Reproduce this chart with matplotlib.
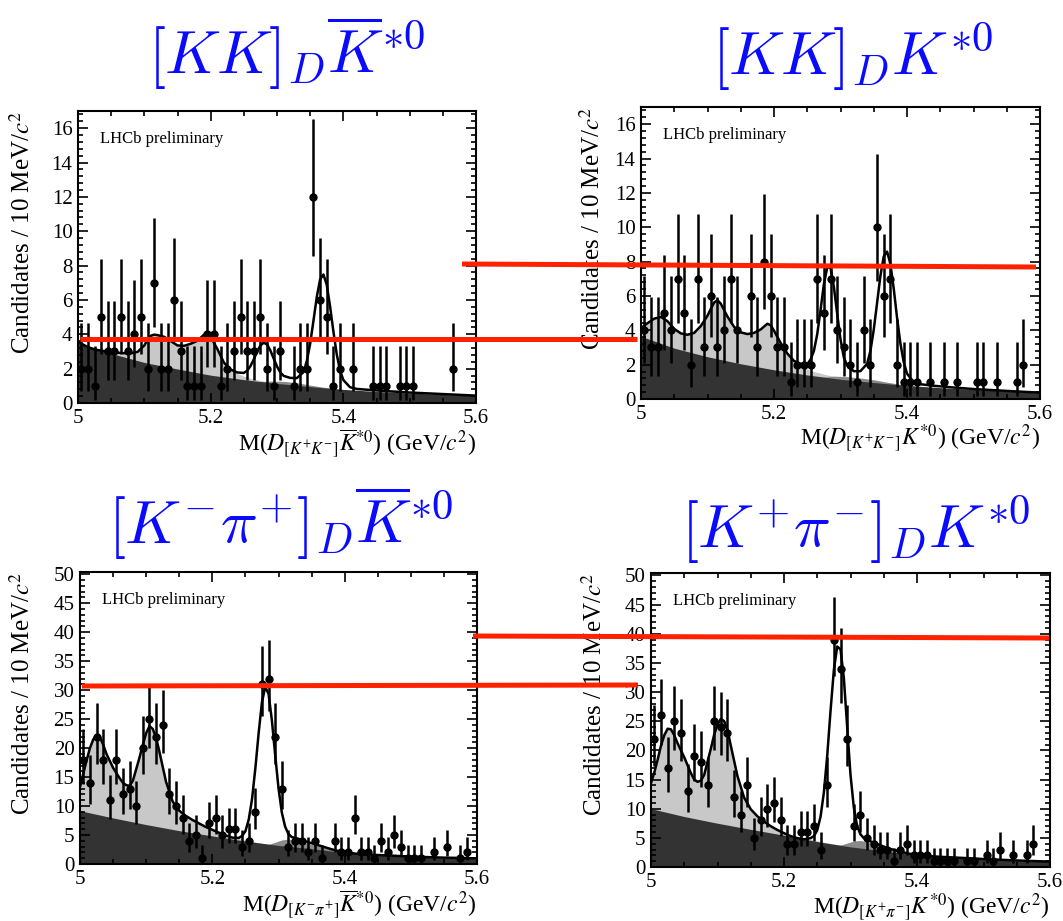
import math
import numpy as np
import matplotlib
matplotlib.use('Agg')
import matplotlib.pyplot as plt
from matplotlib.lines import Line2D
from matplotlib.ticker import MultipleLocator, StrMethodFormatter

plt.rcParams['font.family'] = 'serif'
plt.rcParams['font.serif'] = ['Liberation Serif']
plt.rcParams['mathtext.fontset'] = 'stix'

# 10 MeV bins from 5.0 to 5.6 GeV
bin_lo, bin_width, n_bins = 5.0, 0.01, 60

# candidates per bin
kk_bar_counts = [2, 2, 1, 5, 3, 3, 5, 3, 4, 5, 2, 7, 2, 2, 6, 3, 1, 1, 1, 4,
                 4, 1, 2, 3, 5, 3, 3, 5, 2, 1, 3, 0, 1, 2, 2, 12, 6, 5, 1, 2,
                 0, 2, 0, 0, 1, 1, 1, 0, 1, 1, 1, 0, 0, 0, 0, 0, 2, 0, 0, 0]
kk_counts = [4, 3, 3, 5, 4, 7, 5, 2, 7, 3, 6, 3, 4, 7, 4, 0, 6, 3, 8, 6,
             3, 3, 1, 2, 2, 2, 7, 5, 7, 4, 3, 2, 1, 4, 2, 10, 6, 7, 2, 1,
             1, 1, 0, 1, 0, 1, 0, 1, 0, 0, 1, 1, 0, 1, 0, 0, 1, 2, 0, 0]
kpi_bar_counts = [18, 14, 22, 18, 11, 18, 12, 13, 10, 20, 25, 22, 24, 12, 10, 8, 4, 5, 1, 7,
                  8, 5, 6, 6, 3, 4, 9, 31, 32, 22, 13, 3, 4, 4, 2, 4, 1, 0, 4, 2,
                  2, 8, 2, 2, 1, 4, 2, 5, 3, 1, 1, 1, 0, 2, 0, 3, 0, 1, 2, 0]
kpi_counts = [22, 26, 17, 25, 23, 13, 19, 18, 14, 25, 24, 23, 12, 9, 14, 5, 8, 10, 11, 8,
              4, 4, 6, 6, 7, 3, 14, 39, 34, 22, 7, 9, 5, 4, 3, 3, 1, 3, 4, 2,
              2, 2, 1, 1, 1, 1, 0, 1, 1, 0, 2, 1, 3, 0, 2, 0, 2, 4, 0, 0]

# total fit curves
top_x = [5.000, 5.010, 5.020, 5.030, 5.040, 5.050, 5.060, 5.070, 5.080, 5.090,
         5.100, 5.105, 5.110, 5.115, 5.120, 5.130, 5.140, 5.150, 5.160, 5.170,
         5.180, 5.190, 5.195, 5.200, 5.210, 5.220, 5.230, 5.240, 5.250, 5.255,
         5.260, 5.265, 5.270, 5.275, 5.280, 5.285, 5.290, 5.295, 5.300, 5.305,
         5.310, 5.320, 5.330, 5.340, 5.345, 5.350, 5.355, 5.360, 5.365, 5.370,
         5.375, 5.380, 5.385, 5.390, 5.395, 5.400, 5.410, 5.420, 5.440, 5.470,
         5.500, 5.550, 5.600]
kk_bar_total = [3.58, 3.35, 3.18, 3.08, 3.02, 2.98, 2.93, 2.90, 2.90, 2.98,
                3.35, 3.70, 3.92, 3.98, 3.95, 3.85, 3.60, 3.35, 3.33, 3.45,
                3.62, 3.98, 4.03, 3.85, 3.15, 2.35, 1.95, 1.78, 1.75, 1.88,
                2.15, 2.54, 2.99, 3.35, 3.51, 3.41, 3.06, 2.59, 2.13, 1.78,
                1.58, 1.46, 1.45, 1.80, 2.45, 3.45, 4.80, 6.18, 7.20, 7.48,
                6.88, 5.63, 4.17, 2.85, 1.90, 1.34, 0.92, 0.82, 0.76, 0.68,
                0.61, 0.52, 0.43]
kk_total = [4.13, 4.42, 4.68, 4.78, 4.52, 4.08, 3.82, 3.74, 3.85, 4.25,
            4.85, 5.25, 5.62, 5.75, 5.55, 4.80, 4.20, 3.88, 3.78, 3.85,
            4.05, 4.38, 4.30, 3.98, 3.26, 2.65, 2.22, 2.05, 2.02, 2.30,
            2.80, 3.77, 5.18, 6.68, 7.66, 7.64, 6.55, 4.96, 3.47, 2.42,
            1.95, 1.62, 1.62, 2.05, 2.80, 4.03, 5.59, 7.17, 8.30, 8.58,
            7.87, 6.44, 4.75, 3.25, 2.16, 1.48, 0.98, 0.86, 0.77, 0.67,
            0.58, 0.47, 0.37]

bottom_x = [5.000, 5.005, 5.010, 5.015, 5.020, 5.025, 5.030, 5.035, 5.040, 5.050,
            5.060, 5.065, 5.070, 5.075, 5.080, 5.090, 5.095, 5.100, 5.105, 5.110,
            5.115, 5.120, 5.130, 5.140, 5.150, 5.160, 5.170, 5.180, 5.190, 5.200,
            5.210, 5.220, 5.230, 5.240, 5.245, 5.250, 5.255, 5.260, 5.265, 5.270,
            5.275, 5.280, 5.285, 5.290, 5.295, 5.300, 5.305, 5.310, 5.315, 5.320,
            5.330, 5.340, 5.350, 5.360, 5.370, 5.380, 5.390, 5.400, 5.420, 5.440,
            5.470, 5.500, 5.550, 5.600]
kpi_bar_total = [13.3, 15.6, 17.9, 20.0, 21.5, 22.2, 21.9, 20.6, 19.0, 16.6,
                 14.8, 14.0, 13.6, 13.5, 14.4, 18.4, 20.6, 22.6, 23.8, 23.3,
                 21.8, 19.4, 14.2, 10.8, 9.2, 8.3, 7.6, 7.0, 6.4, 5.9,
                 5.4, 4.95, 4.55, 4.50, 4.85, 5.67, 7.66, 11.2, 16.5, 22.6,
                 27.96, 30.57, 29.35, 24.8, 18.8, 13.1, 8.9, 6.45, 5.2, 4.65,
                 4.35, 3.95, 3.6, 3.25, 2.9, 2.55, 2.25, 2.0, 1.75, 1.6,
                 1.45, 1.28, 1.1, 0.98]
kpi_total = [14.4, 16.2, 18.4, 20.8, 22.6, 23.7, 23.6, 22.6, 21.2, 18.8,
             16.1, 15.0, 14.6, 14.8, 15.8, 20.3, 22.7, 24.4, 25.4, 25.0,
             23.5, 20.8, 15.6, 11.9, 9.9, 8.7, 7.8, 7.0, 6.35, 5.8,
             5.3, 4.95, 4.75, 4.95, 5.3, 6.3, 8.65, 12.8, 19.1, 26.8,
             33.8, 37.8, 37.3, 32.4, 24.0, 15.8, 10.2, 7.0, 5.6, 4.95,
             4.4, 3.95, 3.5, 3.1, 2.8, 2.5, 2.25, 2.06, 1.85, 1.72,
             1.55, 1.37, 1.12, 0.92]

# combinatorial background
comb_x = [5.00, 5.05, 5.10, 5.15, 5.20, 5.25, 5.30, 5.35, 5.40, 5.45, 5.50, 5.55, 5.60]
kk_bar_comb = [3.50, 2.88, 2.36, 1.98, 1.62, 1.36, 1.14, 0.95, 0.79, 0.67, 0.58, 0.50, 0.43]
kk_comb = [3.65, 2.96, 2.46, 2.05, 1.70, 1.40, 1.15, 0.96, 0.79, 0.66, 0.56, 0.46, 0.37]
kpi_bar_comb = [9.2, 7.95, 6.8, 5.75, 4.85, 3.95, 3.2, 2.65, 1.95, 1.55, 1.25, 1.07, 0.95]
kpi_comb = [10.0, 8.65, 7.5, 6.45, 5.45, 4.35, 3.45, 2.75, 2.02, 1.62, 1.33, 1.08, 0.9]

# misidentified background (stacked on combinatorial)
top_misid_x = [5.27, 5.29, 5.31, 5.33, 5.35, 5.37, 5.39, 5.41]
kk_bar_misid = [1.20, 1.28, 1.26, 1.18, 1.04, 0.92, 0.82, 0.74]
kk_misid = [1.25, 1.33, 1.30, 1.22, 1.12, 0.98, 0.85, 0.76]
bottom_misid_x = [5.27, 5.285, 5.295, 5.305, 5.315, 5.325, 5.34, 5.36, 5.38, 5.40]
kpi_bar_misid = [3.30, 3.40, 3.75, 4.15, 4.30, 4.15, 3.70, 3.10, 2.50, 1.95]
kpi_misid = [3.65, 3.75, 4.10, 4.45, 4.55, 4.30, 3.80, 3.05, 2.45, 2.00]

# partially reconstructed background: follows the total below 5.23, then this tail
top_tail_x = [5.24, 5.25, 5.26, 5.27, 5.28, 5.29, 5.30, 5.31, 5.32]
kk_bar_tail = [1.72, 1.56, 1.44, 1.35, 1.28, 1.22, 1.17, 1.12, 1.08]
kk_tail = [1.95, 1.76, 1.60, 1.50, 1.40, 1.32, 1.25, 1.19, 1.14]
bottom_tail_x = [5.24, 5.25, 5.26, 5.27, 5.28, 5.29]
kpi_bar_tail = [4.40, 4.10, 3.85, 3.70, 3.50, 3.30]
kpi_tail = [4.80, 4.50, 4.25, 4.05, 3.85, 3.62]
preco_cut = 5.23

LIGHT, MID, DARK = '#c8c8c8', '#8a8a8a', '#333333'
TITLE_BLUE = '#0a0aff'
RED = '#ff2200'


def poisson_cdf(n, mu):
    term = math.exp(-mu)
    total = term
    for i in range(1, n + 1):
        term *= mu / i
        total += term
    return total


def bisect(pred, lo, hi):
    for _ in range(70):
        mid = 0.5 * (lo + hi)
        if pred(mid):
            lo = mid
        else:
            hi = mid
    return 0.5 * (lo + hi)


def garwood(n, alpha=0.3173):
    hi = n + 10 * math.sqrt(n + 1) + 10
    up = bisect(lambda mu: poisson_cdf(n, mu) > alpha / 2, 0.0, hi)
    if n == 0:
        return 0.0, up
    lo = bisect(lambda mu: poisson_cdf(n - 1, mu) > 1 - alpha / 2, 0.0, hi)
    return lo, up


W, H = 1063, 921
fig = plt.figure(figsize=(W / 100, H / 100), dpi=100)


def px_axes(left, top, right, bottom):
    return fig.add_axes([left / W, 1 - bottom / H, (right - left) / W, (bottom - top) / H])


centres = bin_lo + bin_width * (np.arange(n_bins) + 0.5)

panels = [
    dict(rect=(78, 111, 476, 403), counts=kk_bar_counts, tx=top_x, ty=kk_bar_total,
         comb=kk_bar_comb, mx=top_misid_x, my=kk_bar_misid, px=top_tail_x, py=kk_bar_tail,
         ymax=17, major=2, minor=0.4, ylab_x=-0.108,
         xlabel=r'M($D_{[K^{+}K^{-}]}\overline{K}^{*0}$) (GeV/$c^{2}$)',
         title=r'$[KK]_D\overline{K}^{*0}$', title_xy=(287, 74)),
    dict(rect=(641, 107, 1040, 399), counts=kk_counts, tx=top_x, ty=kk_total,
         comb=kk_comb, mx=top_misid_x, my=kk_misid, px=top_tail_x, py=kk_tail,
         ymax=17, major=2, minor=0.4, ylab_x=-0.09,
         xlabel=r'M($D_{[K^{+}K^{-}]}K^{*0}$) (GeV/$c^{2}$)',
         title=r'$[KK]_DK^{*0}$', title_xy=(853, 75)),
    dict(rect=(80, 572, 477, 864), counts=kpi_bar_counts, tx=bottom_x, ty=kpi_bar_total,
         comb=kpi_bar_comb, mx=bottom_misid_x, my=kpi_bar_misid, px=bottom_tail_x, py=kpi_bar_tail,
         ymax=50.4, major=5, minor=1, ylab_x=-0.113,
         xlabel=r'M($D_{[K^{-}\pi^{+}]}\overline{K}^{*0}$) (GeV/$c^{2}$)',
         title=r'$[K^{-}\pi^{+}]_D\overline{K}^{*0}$', title_xy=(281, 544)),
    dict(rect=(651, 573, 1050, 867), counts=kpi_counts, tx=bottom_x, ty=kpi_total,
         comb=kpi_comb, mx=bottom_misid_x, my=kpi_misid, px=bottom_tail_x, py=kpi_tail,
         ymax=50.4, major=5, minor=1, ylab_x=-0.11,
         xlabel=r'M($D_{[K^{+}\pi^{-}]}K^{*0}$) (GeV/$c^{2}$)',
         title=r'$[K^{+}\pi^{-}]_DK^{*0}$', title_xy=(856, 548)),
]

for p in panels:
    ax = px_axes(*p['rect'])
    tx, ty = np.array(p['tx']), np.array(p['ty'])

    # stacked background components, drawn back to front
    head = tx <= preco_cut + 1e-9
    lx = np.concatenate([tx[head], p['px']])
    ly = np.concatenate([ty[head], p['py']])
    ax.fill_between(lx, 0, ly, color=LIGHT, lw=0, zorder=1)
    ax.fill_between(p['mx'], 0, p['my'], color=MID, lw=0, zorder=1.1)
    ax.fill_between(comb_x, 0, p['comb'], color=DARK, lw=0, zorder=1.2)
    ax.plot(tx, ty, color='black', lw=1.8, zorder=2)

    counts = np.array(p['counts'])
    keep = counts > 0
    lows, ups = zip(*[garwood(int(n)) for n in counts[keep]])
    n = counts[keep]
    ax.errorbar(centres[keep], n, yerr=[n - np.array(lows), np.array(ups) - n],
                fmt='o', ms=5, color='black', ecolor='black', elinewidth=1.8,
                capsize=0, zorder=3)

    ax.set_xlim(5.0, 5.6)
    ax.set_ylim(0, p['ymax'])
    ax.xaxis.set_major_locator(MultipleLocator(0.2))
    ax.xaxis.set_minor_locator(MultipleLocator(0.05))
    ax.xaxis.set_major_formatter(StrMethodFormatter('{x:g}'))
    ax.yaxis.set_major_locator(MultipleLocator(p['major']))
    ax.yaxis.set_minor_locator(MultipleLocator(p['minor']))
    ax.tick_params(which='both', direction='in', top=True, right=True, width=1.2,
                   labelsize=15)
    ax.tick_params(which='major', length=7, pad=4)
    ax.tick_params(which='minor', length=3.5)
    for s in ax.spines.values():
        s.set_linewidth(1.5)

    ax.set_ylabel(r'Candidates / 10 MeV/$c^{2}$', fontsize=18, loc='top')
    ax.yaxis.set_label_coords(p['ylab_x'], 1.0)
    ax.set_xlabel(p['xlabel'], fontsize=17, loc='right')
    ax.xaxis.set_label_coords(1.0, -0.082)

    ax.text(0.055, 0.89, 'LHCb preliminary', transform=ax.transAxes, fontsize=12,
            ha='left', va='baseline')

    tx_px, ty_px = p['title_xy']
    fig.text(tx_px / W, 1 - ty_px / H, p['title'], fontsize=44, color=TITLE_BLUE,
             ha='center', va='baseline', math_fontfamily='cm')

# red guide lines across the panels (figure pixel coordinates)
guides = [((80, 339), (637, 339)), ((462, 264), (1036, 267)),
          ((82, 686), (638, 685)), ((473, 636), (1049, 638))]
for (x0, y0), (x1, y1) in guides:
    fig.add_artist(Line2D([x0 / W, x1 / W], [1 - y0 / H, 1 - y1 / H],
                          transform=fig.transFigure, color=RED, lw=3.6,
                          solid_capstyle='butt', zorder=10))

fig.savefig('out.png', dpi=100)
